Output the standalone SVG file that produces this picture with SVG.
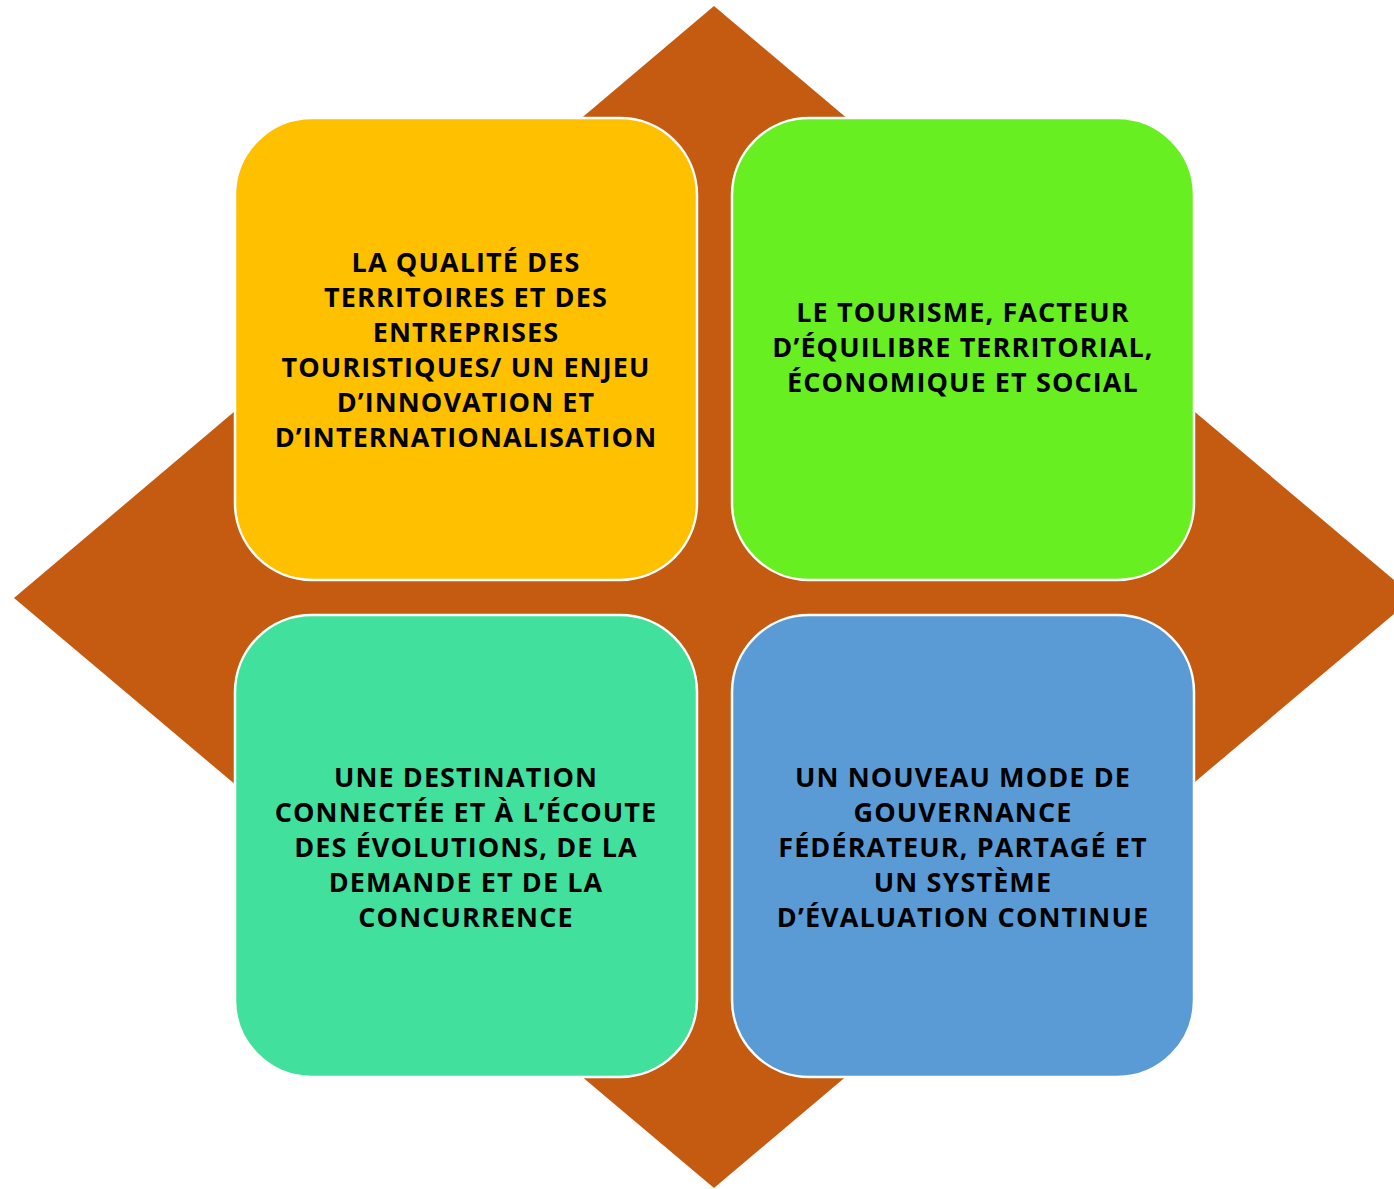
<svg xmlns="http://www.w3.org/2000/svg" width="1394" height="1189" viewBox="0 0 1394 1189">
<style>
.box{stroke:#FFFFFF;stroke-width:2.5}
.t{font-family:"Open Sans","Noto Sans","DejaVu Sans",sans-serif;font-weight:bold;font-size:27px;letter-spacing:1.1px;fill:#000000;text-anchor:middle}
</style>
<rect width="1394" height="1189" fill="#FFFFFF"/>
<polygon id="diamond" points="714,6 1414,597 714,1188 14,598" fill="#C55A11"/>
<g id="node-tl">
<rect class="box" x="235" y="118" width="462" height="462" rx="77" ry="77" fill="#FFC000"/>
<text class="t" x="466" y="272">LA QUALITÉ DES</text>
<text class="t" x="466" y="307">TERRITOIRES ET DES</text>
<text class="t" x="466" y="342">ENTREPRISES</text>
<text class="t" x="466" y="377">TOURISTIQUES/ UN ENJEU</text>
<text class="t" x="466" y="412">D’INNOVATION ET</text>
<text class="t" x="466" y="447">D’INTERNATIONALISATION</text>
</g>
<g id="node-tr">
<rect class="box" x="732" y="118" width="462" height="462" rx="77" ry="77" fill="#68EF22"/>
<text class="t" x="963" y="322">LE TOURISME, FACTEUR</text>
<text class="t" x="963" y="357">D’ÉQUILIBRE TERRITORIAL,</text>
<text class="t" x="963" y="392">ÉCONOMIQUE ET SOCIAL</text>
</g>
<g id="node-bl">
<rect class="box" x="235" y="615" width="462" height="462" rx="77" ry="77" fill="#42E09D"/>
<text class="t" x="466" y="787">UNE DESTINATION</text>
<text class="t" x="466" y="822">CONNECTÉE ET À L’ÉCOUTE</text>
<text class="t" x="466" y="857">DES ÉVOLUTIONS, DE LA</text>
<text class="t" x="466" y="892">DEMANDE ET DE LA</text>
<text class="t" x="466" y="927">CONCURRENCE</text>
</g>
<g id="node-br">
<rect class="box" x="732" y="615" width="462" height="462" rx="77" ry="77" fill="#5B9BD5"/>
<text class="t" x="963" y="787">UN NOUVEAU MODE DE</text>
<text class="t" x="963" y="822">GOUVERNANCE</text>
<text class="t" x="963" y="857">FÉDÉRATEUR, PARTAGÉ ET</text>
<text class="t" x="963" y="892">UN SYSTÈME</text>
<text class="t" x="963" y="927">D’ÉVALUATION CONTINUE</text>
</g>
<g id="connectors"></g>
</svg>
